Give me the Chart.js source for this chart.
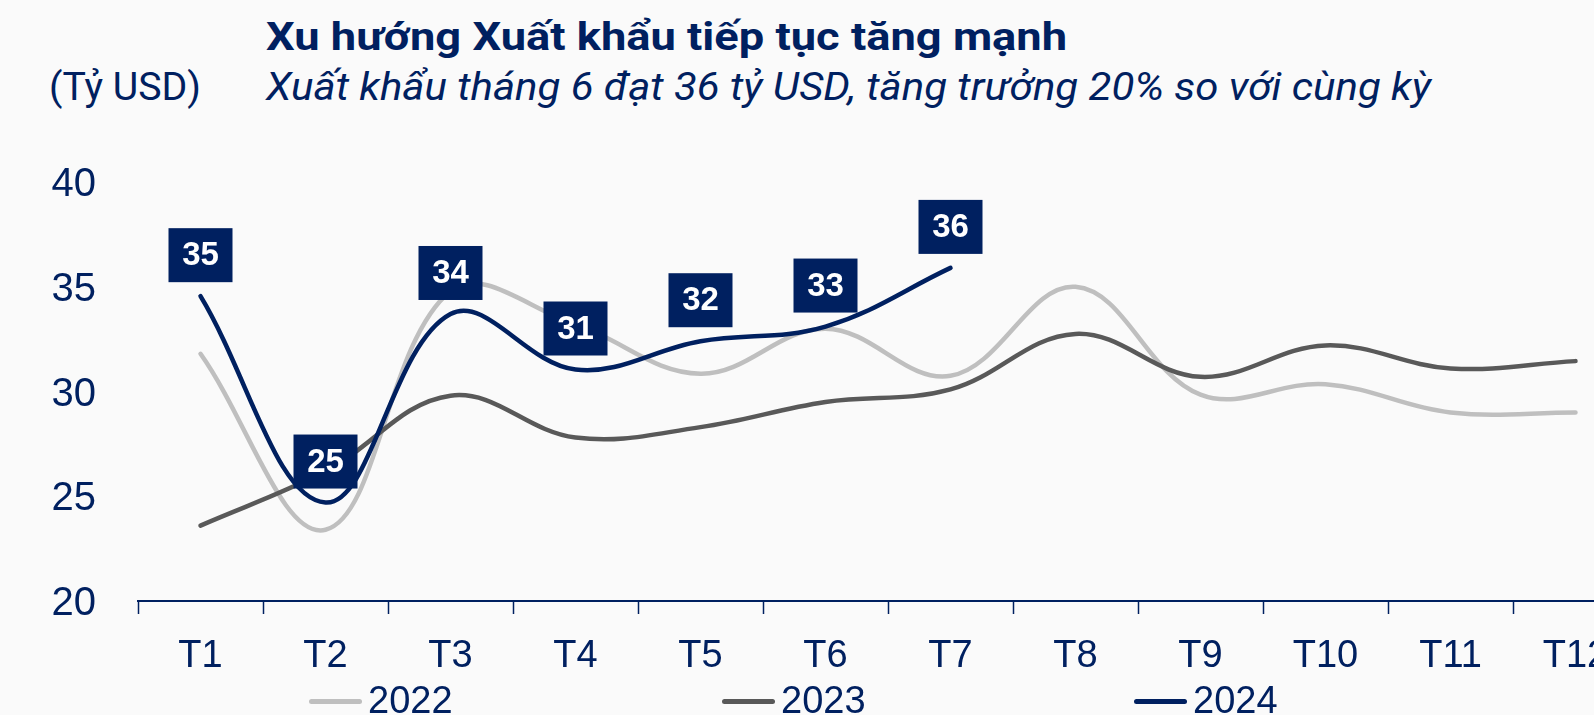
<!DOCTYPE html>
<html lang="vi">
<head>
<meta charset="utf-8">
<title>Xu hướng Xuất khẩu tiếp tục tăng mạnh</title>
<script src="https://cdn.jsdelivr.net/npm/chart.js@4.4.1/dist/chart.umd.min.js"></script>
<style>
  html, body { margin: 0; padding: 0; width: 1594px; height: 715px; overflow: hidden; background: #fafafa; }
  body { position: relative; color: #002060; font-family: Roboto, "Liberation Sans", sans-serif; }
  .txt { position: absolute; white-space: nowrap; line-height: 1; transform-origin: left top; }
  #title { left: 266px; top: 18px; font-size: 38px; font-weight: 700; }
  #subtitle { left: 266px; top: 68px; font-size: 38px; font-style: italic; }
  #unit { left: 49px; top: 68px; font-size: 38px; }
  #chart-box { position: absolute; left: 0; top: 0; width: 1700px; height: 715px; }
  .lg-line { position: absolute; height: 5px; width: 53px; border-radius: 3px; }
  .lg-text { position: absolute; font: 38px/38px "Liberation Sans", Arial, sans-serif; color: #002060; white-space: nowrap; }
</style>
</head>
<body>
<div id="title" class="txt">Xu hướng Xuất khẩu tiếp tục tăng mạnh</div>
<div id="unit" class="txt">(Tỷ USD)</div>
<div id="subtitle" class="txt">Xuất khẩu tháng 6 đạt 36 tỷ USD, tăng trưởng 20% so với cùng kỳ</div>
<div id="chart-box"><canvas id="chart"></canvas></div>
<div id="legend"></div>

<script>
// Dữ liệu (tỷ USD)
const months = ['T1', 'T2', 'T3', 'T4', 'T5', 'T6', 'T7', 'T8', 'T9', 'T10', 'T11', 'T12'];
const seriesNames = ['2022', '2023', '2024'];
const export2022 = [31.8, 23.4, 34.8, 33.2, 30.85, 33.0, 30.75, 35.0, 29.85, 30.35, 29.0, 29.0];
const export2023 = [23.6, 26.2, 29.8, 27.8, 28.3, 29.5, 30.1, 32.75, 30.7, 32.2, 31.1, 31.45];
const export2024 = [34.55, 24.7, 33.7, 31.05, 32.4, 33.1, 35.9];
const labels2024 = ['35', '25', '34', '31', '32', '33', '36'];
const yTicks = [20, 25, 30, 35, 40];

const NAVY = '#002060';
const colors = ['#bfbfbf', '#595959', NAVY];

// giãn chữ cho khớp bề rộng trong ảnh gốc
function fitWidth(id, target) {
    const el = document.getElementById(id);
    const w = el.getBoundingClientRect().width;
    if (w > 0) el.style.transform = 'scaleX(' + (target / w).toFixed(4) + ')';
}
fitWidth('title', 801);
fitWidth('subtitle', 1165);
fitWidth('unit', 152);

// Nhãn ô vuông cho năm 2024
const boxLabels = {
    id: 'boxLabels',
    afterDatasetsDraw(chart) {
        const idx = 2;
        const meta = chart.getDatasetMeta(idx);
        const ctx = chart.ctx;
        ctx.save();
        ctx.font = 'bold 33px "Liberation Sans", Arial, sans-serif';
        ctx.textAlign = 'center';
        ctx.textBaseline = 'middle';
        meta.data.forEach((pt, i) => {
            if (labels2024[i] === undefined) return;
            const cx = pt.x;
            const cy = pt.y - 41;
            ctx.fillStyle = NAVY;
            ctx.fillRect(cx - 32, cy - 27, 64, 54);
            ctx.fillStyle = '#ffffff';
            ctx.fillText(labels2024[i], cx, cy + 1);
        });
        ctx.restore();
    }
};

const datasets = [export2022, export2023, export2024].map((data, i) => ({
    label: seriesNames[i],
    data: data,
    borderColor: colors[i],
    backgroundColor: colors[i],
    borderWidth: 4.5,
    borderCapStyle: 'round',
    pointRadius: 0,
    pointHoverRadius: 0,
    tension: 0.38,
    fill: false,
    order: 3 - i
}));

const chart = new Chart(document.getElementById('chart'), {
    type: 'line',
    data: { labels: months, datasets: datasets },
    options: {
        responsive: true,
        maintainAspectRatio: false,
        animation: false,
        events: [],
        layout: { padding: { left: 0, right: 62, top: 182, bottom: 0 } },
        plugins: {
            legend: { display: false },
            tooltip: { enabled: false },
            title: { display: false }
        },
        scales: {
            x: {
                type: 'category',
                offset: true,
                afterFit: (s) => { s.height = 114; },
                grid: {
                    offset: true,
                    drawOnChartArea: false,
                    drawTicks: true,
                    tickLength: 13,
                    tickWidth: 1.5,
                    color: NAVY
                },
                border: { display: true, color: NAVY, width: 2 },
                ticks: {
                    color: NAVY,
                    font: { family: '"Liberation Sans", Arial, sans-serif', size: 38 },
                    padding: 20,
                    maxRotation: 0,
                    autoSkip: false
                }
            },
            y: {
                min: 20,
                max: 40,
                afterFit: (s) => { s.width = 138; },
                afterBuildTicks: (s) => { s.ticks = yTicks.map(v => ({ value: v })); },
                grid: { display: false, drawTicks: false },
                border: { display: false },
                ticks: {
                    color: NAVY,
                    font: { family: '"Liberation Sans", Arial, sans-serif', size: 40 },
                    padding: 42,
                    labelOffset: 3
                }
            }
        }
    },
    plugins: [boxLabels]
});

// Chú thích dưới biểu đồ, dựng từ các dataset
const legendX = [309, 722, 1134];
const legend = document.getElementById('legend');
chart.data.datasets.forEach((ds, i) => {
    const line = document.createElement('div');
    line.className = 'lg-line';
    line.style.left = legendX[i] + 'px';
    line.style.top = '699px';
    line.style.background = ds.borderColor;
    legend.appendChild(line);
    const text = document.createElement('div');
    text.className = 'lg-text';
    text.style.left = (legendX[i] + 59) + 'px';
    text.style.top = '681px';
    text.textContent = ds.label;
    legend.appendChild(text);
});
</script>
</body>
</html>
